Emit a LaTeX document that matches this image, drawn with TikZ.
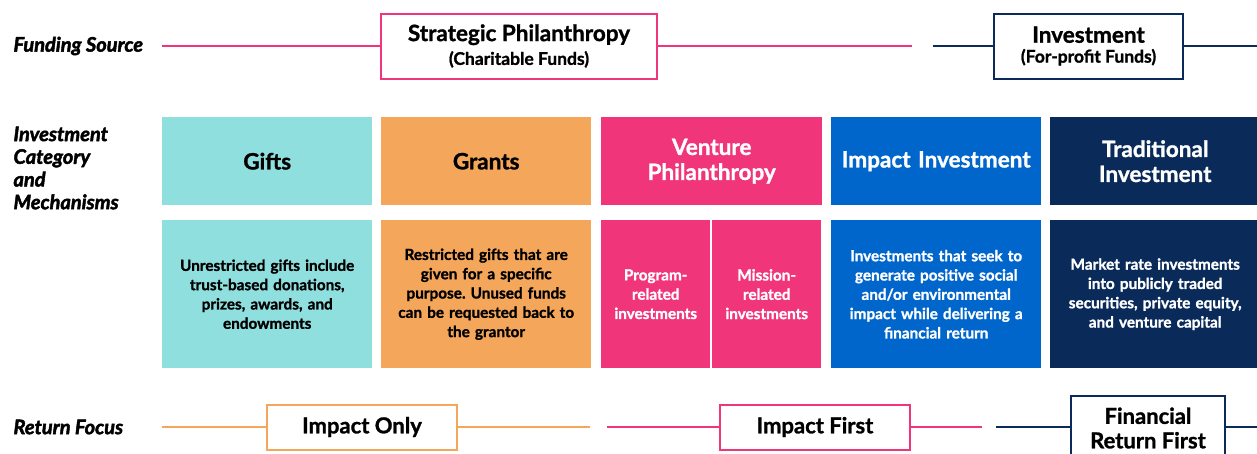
\documentclass[tikz,border=0pt]{standalone}
\usepackage{fontspec}
\setmainfont{Lato}[BoldFeatures={FakeBold=1.2},BoldItalicFeatures={FakeBold=2.2}]
\frenchspacing
\definecolor{teal}{HTML}{8FDFDF}
\definecolor{orng}{HTML}{F4A65A}
\definecolor{pinkc}{HTML}{F0357A}
\definecolor{bluec}{HTML}{0066CC}
\definecolor{navyc}{HTML}{0A2B5A}
\begin{document}
\begin{tikzpicture}[x=1pt,y=-1pt,
  rowlabel/.style={anchor=west,align=left,font=\fontsize{20}{22.7}\selectfont\bfseries\itshape},
  cell/.style={anchor=north west,inner sep=0pt,align=center,text width=#1 pt,minimum width=#1 pt},
  head/.style={font=\fontsize{22.5}{25}\selectfont\bfseries},
  body/.style={font=\fontsize{15.3}{19.3}\selectfont\bfseries},
  tag/.style={draw=#1,line width=2pt,fill=white,inner sep=0pt,align=center},
  link/.style={draw=#1,line width=1.6pt}]
\useasboundingbox (0,0) rectangle (1257,453);
\clip (0,0) rectangle (1257,453);

% row labels
\node[rowlabel] (lfund) at (10,46) {Funding Source};
\node[rowlabel] (lcat) at (10,168) {Investment\\Category\\and\\Mechanisms};
\node[rowlabel] (lret) at (10,427) {Return Focus};

% funding source row
\node[tag=pinkc,minimum width=276pt,minimum height=65pt] (strat) at (519,46)
  {{\fontsize{22.5}{24}\selectfont\bfseries Strategic Philanthropy}\\[5pt]{\fontsize{17.5}{19}\selectfont\bfseries (Charitable Funds)}};
\node[tag=navyc,minimum width=189pt,minimum height=65pt] (inv) at (1088.5,46)
  {{\fontsize{22.5}{24}\selectfont\bfseries Investment}\\[5pt]{\fontsize{17.5}{19}\selectfont\bfseries (For-profit Funds)}};
\coordinate (f0) at (162,46);
\coordinate (f1) at (912,46);
\coordinate (f2) at (933,46);
\coordinate (f3) at (1257,46);
\draw[link=pinkc] (f0) -- (strat.west);
\draw[link=pinkc] (strat.east) -- (f1);
\draw[link=navyc] (f2) -- (inv.west);
\draw[link=navyc] (inv.east) -- (f3);

% category headers
\node[cell=210,minimum height=88pt,fill=teal,head] (hgift) at (162,117) {Gifts};
\node[cell=210,minimum height=88pt,fill=orng,head] (hgrant) at (381,117) {Grants};
\node[cell=221,minimum height=88pt,fill=pinkc,head,text=white] (hvent) at (601,117) {Venture\\Philanthropy};
\node[cell=210,minimum height=88pt,fill=bluec,head,text=white] (himp) at (831,117) {Impact Investment};
\node[cell=210,minimum height=88pt,fill=navyc,head,text=white] (htrad) at (1050,117) {Traditional\\Investment};

% mechanisms
\node[cell=210,minimum height=148pt,fill=teal,body] (bgift) at (162,220)
  {Unrestricted gifts include\\trust-based donations,\\prizes, awards, and\\endowments};
\node[cell=210,minimum height=148pt,fill=orng,body] (bgrant) at (381,220)
  {Restricted gifts that are\\given for a specific\\purpose. Unused funds\\can be requested back to\\the grantor};
\node[cell=109,minimum height=148pt,fill=pinkc,body,text=white] (bprog) at (601,220)
  {Program-\\related\\investments};
\node[cell=109,minimum height=148pt,fill=pinkc,body,text=white] (bmiss) at (712,220)
  {Mission-\\related\\investments};
\node[cell=210,minimum height=148pt,fill=bluec,body,text=white] (bimp) at (831,220)
  {Investments that seek to\\generate positive social\\and/or environmental\\impact while delivering a\\financial return};
\node[cell=210,minimum height=148pt,fill=navyc,body,text=white] (btrad) at (1050,220)
  {Market rate investments\\into publicly traded\\securities, private equity,\\and venture capital};

% return focus row
\node[tag=orng,minimum width=190pt,minimum height=45pt,font=\fontsize{22}{25}\selectfont\bfseries] (ronly) at (362,427) {Impact Only};
\node[tag=pinkc,minimum width=190pt,minimum height=45pt,font=\fontsize{22}{25}\selectfont\bfseries] (rfirst) at (815,427) {Impact First};
\node[tag=navyc,minimum width=154pt,minimum height=64pt,font=\fontsize{22}{24.5}\selectfont\bfseries,anchor=north] (rfin) at (1148,395) {Financial\\Return First};
\coordinate (r0) at (162,427);
\coordinate (r1) at (590,427);
\coordinate (r2) at (607,427);
\coordinate (r3) at (982,427);
\coordinate (r4) at (996,427);
\coordinate (r5) at (1257,427);
\draw[link=orng] (r0) -- (ronly.west);
\draw[link=orng] (ronly.east) -- (r1);
\draw[link=pinkc] (r2) -- (rfirst.west);
\draw[link=pinkc] (rfirst.east) -- (r3);
\draw[link=navyc] (r4) -- (rfin.west |- r4);
\draw[link=navyc] (rfin.east |- r5) -- (r5);
\end{tikzpicture}
\end{document}
